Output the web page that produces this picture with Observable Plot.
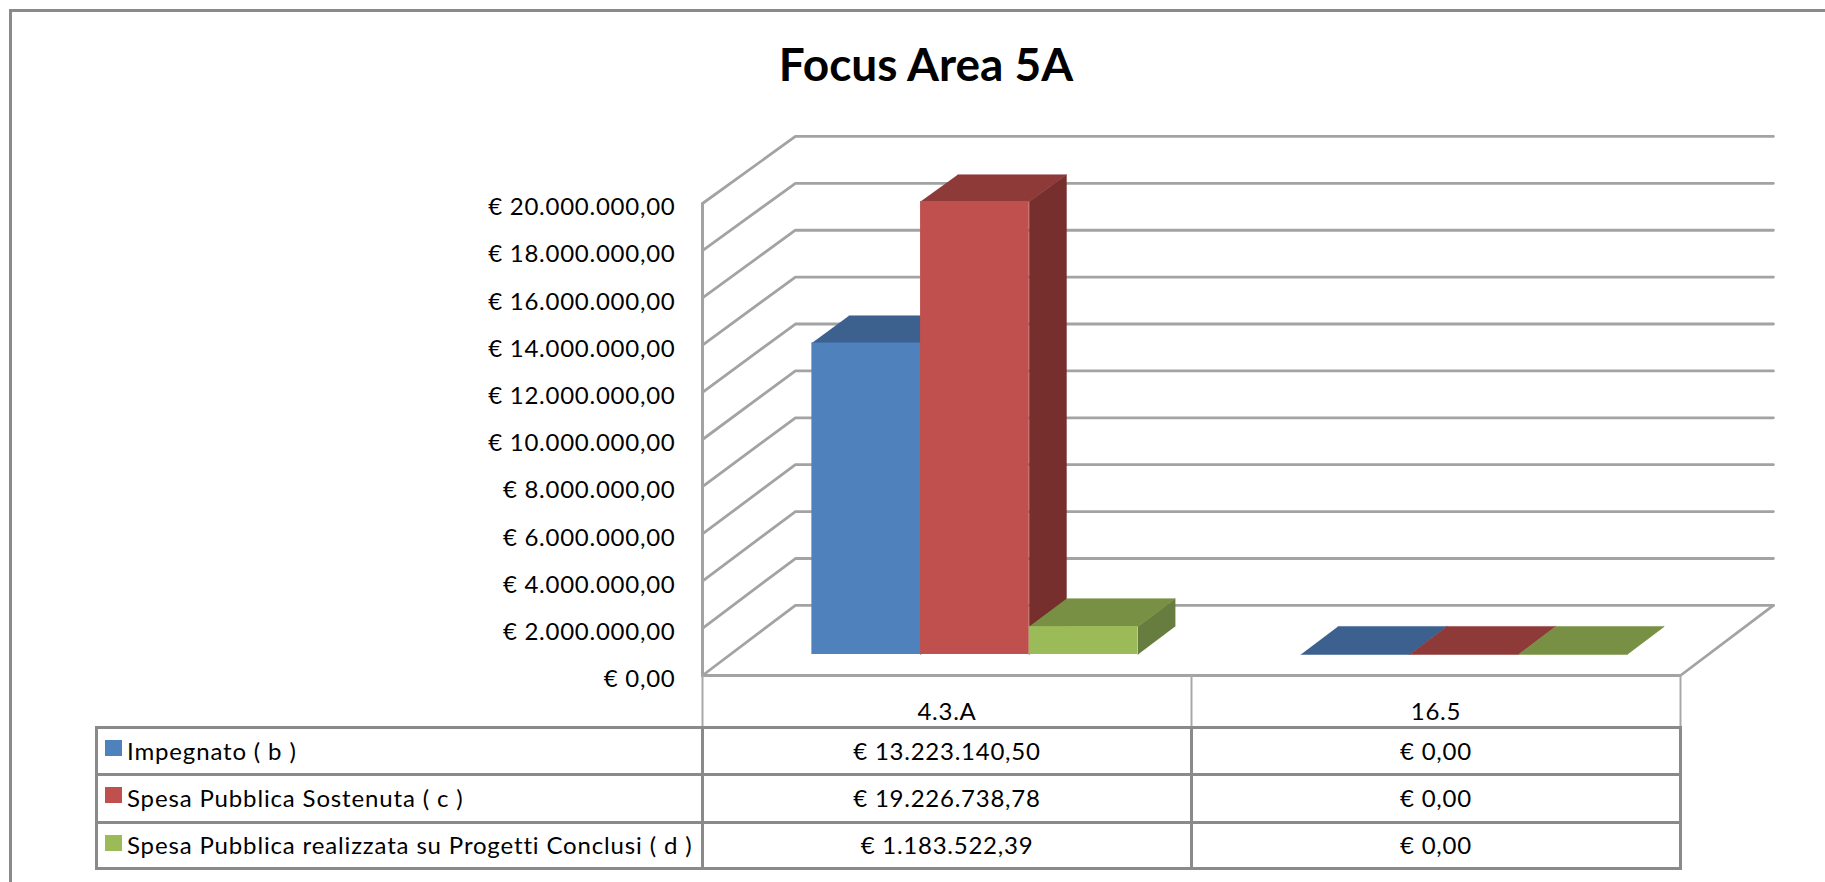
<!DOCTYPE html>
<html lang="it">
<head>
<meta charset="utf-8">
<script src="https://cdn.jsdelivr.net/npm/d3@7"></script>
<script src="https://cdn.jsdelivr.net/npm/@observablehq/plot@0.6"></script>
<style>
  html, body { margin: 0; background: #fff; overflow: hidden; }
  body { width: 1825px; height: 882px; position: relative; font-family: Lato, sans-serif; color: #000; }
  #frame { position: absolute; left: 9px; top: 9px; right: -5px; bottom: -5px; border-left: 3px solid #8a8a8a; border-top: 3px solid #8a8a8a; }
  h1 { position: absolute; left: 0; width: 1852px; top: 37px; margin: 0; text-align: center; font: 700 46px/54px Lato, sans-serif; }
  #chart { position: absolute; left: 0; top: 0; }
  #chart svg { display: block; background: transparent; }
  #chart svg text { letter-spacing: 0.75px; }
  table { position: absolute; left: 95px; top: 726px; border-collapse: collapse; table-layout: fixed; width: 1584px; font: 400 24px Lato, sans-serif; letter-spacing: 0.75px; }
  td { border: 3px solid #8a8a8a; padding: 0 0 2px 0; text-align: center; white-space: nowrap; }
  td.lab { text-align: left; position: relative; padding-left: 29px; letter-spacing: 0.85px; }
  td.lab i { position: absolute; left: 7px; top: 11px; width: 17px; height: 16px; }
</style>
</head>
<body>
<div id="frame"></div>
<h1>Focus Area 5A</h1>
<div id="chart"></div>
<table id="tbl"></table>
<script>
const categories = ["4.3.A", "16.5"];
const seriesNames = ["Impegnato ( b )", "Spesa Pubblica Sostenuta ( c )", "Spesa Pubblica realizzata su Progetti Conclusi ( d )"];
const impegnato = [13223140.50, 0];
const sostenuta = [19226738.78, 0];
const conclusi = [1183522.39, 0];
const yTicks = [0, 2e6, 4e6, 6e6, 8e6, 10e6, 12e6, 14e6, 16e6, 18e6, 20e6];
const frontColors = ["#4f81bd", "#c0504d", "#9bbb59"];
const topColors = ["#3d618e", "#8e3a38", "#789043"];
const sideColors = ["#365679", "#772f2d", "#677c3f"];
const seriesValues = [impegnato, sostenuta, conclusi];

const fmt = d3.formatLocale({decimal: ",", thousands: ".", grouping: [3], currency: ["€ ", ""]}).format("$,.2f");

// Oblique 3D projection expressed in data units of the two scales
const depthX = 0.19;      // categories, full depth of the floor
const depthY = 2.97e6;    // value units, full depth of the floor
const shrink = 0.0064;    // slight perspective toward the back wall
const px = (x, t) => x + t * depthX;
const py = (v, t) => v * (1 - shrink * t) + t * depthY;
const gap = 81.5 / 489, barW = 108.7 / 489;   // fractions of a category
const t0 = 0.3, t1 = 0.7;                     // bar position in depth

const wallLines = yTicks.flatMap(v => [
  {id: v, x: px(0, 0), y: py(v, 0)},
  {id: v, x: px(0, 1), y: py(v, 1)},
  {id: v, x: px(2, 1), y: py(v, 1)}
]);
const floorLines = [
  {id: "front", x: px(0, 0), y: py(0, 0)},
  {id: "front", x: px(2, 0), y: py(0, 0)},
  {id: "front", x: px(2, 1), y: py(0, 1)}
];
const leftAxis = [{id: "a", x: 0, y: 0}, {id: "a", x: 0, y: 20e6}];

const barMarks = seriesValues.map((vals, s) => {
  const bars = vals.map((v, c) => ({c, v, x0: c + gap + s * barW, x1: c + gap + (s + 1) * barW}));
  const poly = (b, pts) => pts.map(([x, v, t]) => ({id: b.c, x: px(x, t), y: py(v, t)}));
  const side = bars.flatMap(b => poly(b, [[b.x1, 0, t0], [b.x1, b.v, t0], [b.x1, b.v, t1], [b.x1, 0, t1]]));
  const top = bars.flatMap(b => poly(b, [[b.x0, b.v, t0], [b.x1, b.v, t0], [b.x1, b.v, t1], [b.x0, b.v, t1]]));
  return [
    Plot.line(side, {x: "x", y: "y", z: "id", fill: sideColors[s], stroke: sideColors[s], strokeWidth: 0.5}),
    Plot.line(top, {x: "x", y: "y", z: "id", fill: topColors[s], stroke: topColors[s], strokeWidth: 0.5}),
    Plot.rect(bars, {
      x1: b => px(b.x0, t0), x2: b => px(b.x1, t0),
      y1: b => py(0, t0), y2: b => py(b.v, t0),
      fill: frontColors[s]
    })
  ];
});

const chart = Plot.plot({
  width: 1825,
  height: 727,
  marginLeft: 702,
  marginRight: 145,
  marginTop: 203,
  marginBottom: 52,
  style: {fontFamily: "Lato, sans-serif", color: "#000", overflow: "visible"},
  x: {domain: [0, 2], axis: null},
  y: {domain: [0, 20e6], axis: null},
  marks: [
    Plot.line(wallLines, {x: "x", y: "y", z: "id", stroke: "#a3a3a3", strokeWidth: 2.8}),
    Plot.line(floorLines, {x: "x", y: "y", z: "id", stroke: "#a3a3a3", strokeWidth: 2.8}),
    Plot.line(leftAxis, {x: "x", y: "y", z: "id", stroke: "#a3a3a3", strokeWidth: 3}),
    barMarks,
    Plot.axisX({ticks: [0, 1, 2], tickSize: 52, text: null, label: null, stroke: "#a8a8a8", strokeWidth: 2}),
    Plot.axisX({ticks: [0.5, 1.5], tickSize: 0, tickPadding: 27, label: null, fontSize: 24,
      tickFormat: d => categories[d - 0.5], fill: "#000"}),
    Plot.axisY({ticks: yTicks, tickSize: 0, tickPadding: 27, label: null, fontSize: 24, dy: 4,
      tickFormat: fmt, fill: "#000"})
  ]
});
document.getElementById("chart").append(chart);

// Data table under the plot, aligned with the category bands
const tbl = d3.select("#tbl");
const cg = tbl.append("colgroup");
[606, 489, 489].forEach(w => cg.append("col").style("width", w + "px"));
const rowH = [47, 48, 46];
seriesNames.forEach((name, s) => {
  const tr = tbl.append("tr").style("height", rowH[s] + "px");
  const lab = tr.append("td").attr("class", "lab");
  lab.append("i").style("background", frontColors[s]);
  lab.append("span").text(name);
  seriesValues[s].forEach(v => tr.append("td").text(fmt(v)));
});
</script>
</body>
</html>
